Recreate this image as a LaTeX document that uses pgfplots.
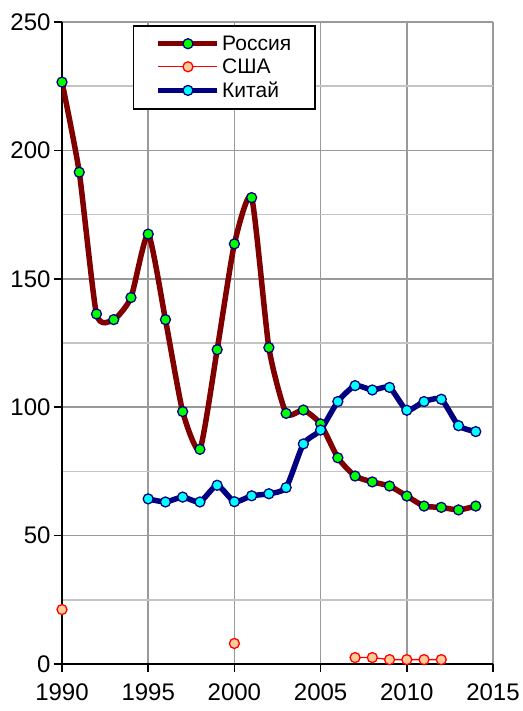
\documentclass[border=0pt]{standalone}
\usepackage{pgfplots}
\pgfplotsset{compat=1.18}
\usepackage{fontspec}
\setmainfont{Liberation Sans}
\definecolor{rus}{HTML}{800000}
\definecolor{navy}{HTML}{000080}
\definecolor{grn}{HTML}{00FF00}
\definecolor{cyn}{HTML}{00FFFF}
\definecolor{usl}{HTML}{FF0000}
\definecolor{usf}{HTML}{FFCC99}
\definecolor{gridd}{HTML}{9A9A9A}
\definecolor{gridl}{HTML}{C4C4C4}
\begin{document}
\begin{tikzpicture}
\begin{axis}[
  scale only axis, width=431pt, height=642pt,
  xmin=1990, xmax=2015, ymin=0, ymax=250,
  axis x line=bottom, axis y line=left,
  axis line style={-, black, line width=1.6pt},
  xtick={1990,1995,...,2015}, ytick={0,50,...,250},
  minor ytick={25,75,...,225},
  xmajorgrids, ymajorgrids, yminorgrids,
  major grid style={gridd, line width=1.5pt},
  minor grid style={gridl, line width=1.5pt},
  tick align=outside, major tick length=8pt, minor tick length=0pt,
  tick style={black, line width=1.5pt},
  /pgf/number format/assume math mode=true,
  /pgf/number format/1000 sep={},
  tick label style={font=\fontsize{24}{26}\selectfont},
  xticklabel style={yshift=-8pt},
  legend style={at={(0.1647,0.9953)}, anchor=north west, draw=black, line width=1.5pt,
    fill=white, font=\fontsize{21}{23}\selectfont, inner xsep=22pt, inner ysep=8pt,
    row sep=3pt},
  legend cell align=left,
  legend image code/.code={\draw[mark repeat=2, mark phase=2] plot coordinates {(0pt,0pt) (29.5pt,0pt) (59pt,0pt)};},
]
\addplot[rus, line width=5.5pt, smooth, tension=0.35, mark=*, mark size=5pt,
  mark options={fill=grn, draw=navy, line width=1.3pt}] coordinates {
(1990,226.6) (1991,191.5) (1992,136.3) (1993,134.1) (1994,142.7) (1995,167.4)
(1996,134.1) (1997,98.3) (1998,83.6) (1999,122.4) (2000,163.6) (2001,181.6)
(2002,123.2) (2003,97.6) (2004,98.9) (2005,93.5) (2006,80.3) (2007,73.2)
(2008,70.9) (2009,69.3) (2010,65.4) (2011,61.5) (2012,61.0) (2013,60.0) (2014,61.5)};
\addlegendentry{Россия}
\addplot[usl, line width=1.3pt, unbounded coords=jump, mark=*, mark size=5pt,
  mark options={fill=usf, draw=usl, line width=1.3pt}] coordinates {
(1990,21.2) (1991,nan) (1999,nan) (2000,8.0) (2001,nan) (2006,nan)
(2007,2.5) (2008,2.5) (2009,1.7) (2010,1.7) (2011,1.7) (2012,1.7)};
\addlegendentry{США}
\addplot[navy, line width=5.5pt, smooth, tension=0.35, mark=*, mark size=5pt,
  mark options={fill=cyn, draw=navy, line width=1.3pt}] coordinates {
(1995,64.3) (1996,63.1) (1997,65.0) (1998,63.1) (1999,69.6) (2000,63.2)
(2001,65.5) (2002,66.3) (2003,68.7) (2004,85.7) (2005,91.1) (2006,102.2)
(2007,108.4) (2008,106.7) (2009,107.7) (2010,98.8) (2011,102.2) (2012,103.1)
(2013,92.8) (2014,90.5)};
\addlegendentry{Китай}
\end{axis}
\pgfresetboundingbox
\path (current axis.south west) ++(-62pt,-47pt) rectangle ++(522pt,711pt);
\end{tikzpicture}
\end{document}
